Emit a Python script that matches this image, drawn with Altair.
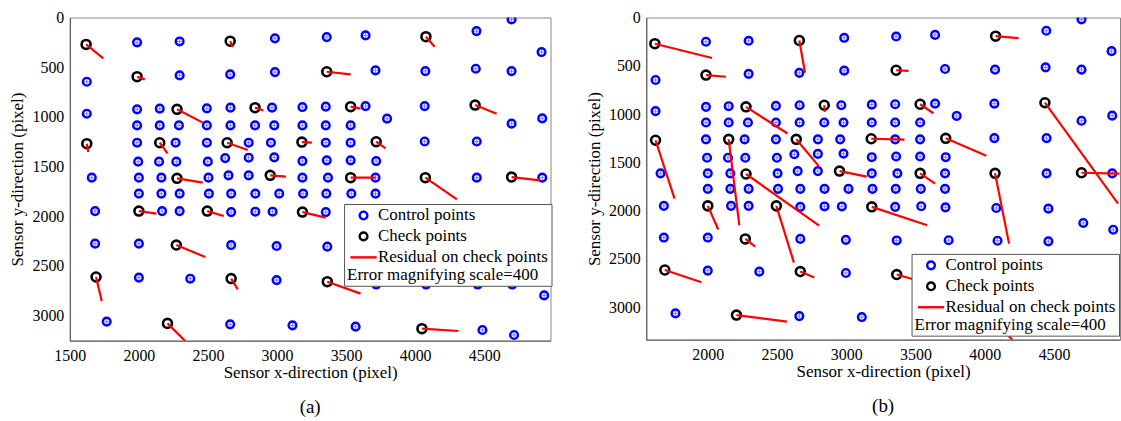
import altair as alt
import pandas as pd

# ---------------- data ----------------
ctrl_x = [1987, 2295, 2985, 3360, 3641, 4444, 4698, 4915,
          1623, 2295, 2661, 2985, 3713, 4074, 4439, 4698,
          1623, 1987, 2151, 2492, 2663, 2964, 3184, 3353, 3641, 3797, 4069, 4698, 4920,
          1987, 2151, 2290, 2492, 2663, 2841, 2980, 3184, 3353, 3533,
          1987, 2266, 2492, 2795, 2956, 3353, 3533, 4069, 4446,
          1995, 2146, 2271, 2499, 2625, 2795, 2980, 3184, 3360, 3533, 3718,
          1659, 2000, 2163, 2504, 2649, 2795, 3184, 3369, 3713, 4446, 4920,
          2000, 2163, 2295, 2507, 2668, 2843, 3016, 3189, 3357, 3538, 3713,
          1683, 2168, 2295, 2668, 2843, 2968, 3353, 3541, 3716, 4083, 4459, 4711, 4927,
          1683, 2000, 2668, 2997, 3364, 3739, 4092, 4459,
          2000, 2372, 2997, 3718, 4079, 4453, 4703, 4934,
          1767, 2661, 3112, 3569, 4487, 4716]
ctrl_y = [251, 241, 210, 197, 180, 137, 19, 348,
          647, 583, 573, 550, 533, 540, 516, 540,
          969, 925, 918, 915, 908, 908, 902, 898, 892, 1019, 892, 1069, 1016,
          1087, 1087, 1087, 1087, 1087, 1087, 1087, 1087, 1087, 1087,
          1261, 1261, 1261, 1261, 1261, 1261, 1261, 1249, 1249,
          1452, 1452, 1452, 1452, 1416, 1412, 1409, 1446, 1439, 1439, 1446,
          1613, 1613, 1613, 1613, 1590, 1590, 1613, 1613, 1613, 1613, 1613,
          1774, 1774, 1774, 1774, 1774, 1774, 1774, 1774, 1774, 1774, 1774,
          1950, 1950, 1950, 1960, 1956, 1956, 1960, 1954, 1965, 1972, 1979, 2127, 2197,
          2278, 2278, 2292, 2302, 2308, 2306, 2311, 2317,
          2620, 2631, 2645, 2690, 2690, 2690, 2690, 2799,
          3063, 3091, 3101, 3114, 3148, 3198]

chk_x = [1618, 2661, 4078, 1987, 3360, 2276, 2841, 3533, 4434, 1623, 2151, 2639, 3180, 3718,
         2276, 2951, 3533, 4074, 4698, 2000, 2495, 3184, 2271, 1690, 2668, 3364, 4049, 2207]
chk_y = [271, 238, 193, 596, 546, 925, 908, 898, 882, 1271, 1261, 1261, 1255, 1251,
         1620, 1590, 1613, 1613, 1607, 1950, 1950, 1960, 2292, 2614, 2630, 2661, 3134, 3081]

# magnified residuals (x400) of the check points, panel (a) and panel (b)
res_a_dx = [124, 19, 63, 56, 173, 187, 60, 72, 156, 11, 56, 149, 72, 68,
            187, 114, 180, 228, 205, 127, 120, 169, 210, 41, 48, 241, 265, 129]
res_a_dy = [141, 60, 101, 27, 27, 134, 28, 20, 87, 84, 108, 74, 6, 67,
            44, 13, 0, 219, 33, 26, 50, 56, 121, 242, 108, 120, 24, 178]
res_b_dx = [413, 41, 166, 144, 89, 300, 4, 96, 528, 137, 77, 161, 240, 293,
            528, 197, 108, 101, 274, 76, 127, 400, 72, 264, 101, 144, 150, 365]
res_b_dy = [148, 334, 21, 17, 6, 276, 69, 93, 1045, 604, 890, 275, 10, 179,
            535, 58, 107, 728, 10, 245, 587, 190, 79, 127, 62, 59, 200, 68]

x_ticks_a = [1500, 2000, 2500, 3000, 3500, 4000, 4500]
x_ticks_b = [2000, 2500, 3000, 3500, 4000, 4500]
y_ticks = [0, 500, 1000, 1500, 2000, 2500, 3000]
legend_labels = ["Control points", "Check points", "Residual on check points"]
legend_title = "Error magnifying scale=400"
x_title = "Sensor x-direction (pixel)"
y_title = "Sensor y-direction (pixel)"

FONT = "Liberation Serif"
BLUE, BLACK, RED = "#0000ff", "#000000", "#ff0000"

ctrl = pd.DataFrame({"x": ctrl_x, "y": ctrl_y, "kind": legend_labels[0]})
chk = pd.DataFrame({"x": chk_x, "y": chk_y, "kind": legend_labels[1]})


def residuals(dx, dy):
    return pd.DataFrame({
        "x": chk_x, "y": chk_y,
        "xe": [a + b for a, b in zip(chk_x, dx)],
        "ye": [a + b for a, b in zip(chk_y, dy)],
        "kind": legend_labels[2],
    })


def panel(res_df, xdom, xticks, ydom, lx, ly, caption, w, h):
    xs = alt.Scale(domain=xdom, nice=False, zero=False)
    ys = alt.Scale(domain=ydom, reverse=True, nice=False, zero=False)
    xax = alt.Axis(values=xticks, title=x_title, format="d", labelFlush=False)
    yax = alt.Axis(values=y_ticks, title=y_title, format="d")
    leg = alt.Legend(title=legend_title, orient="none", legendX=lx, legendY=ly,
                     titleOrient="bottom", titleAnchor="start", titleFont=FONT,
                     titleFontSize=17, titleFontWeight="normal", titleColor="black",
                     titlePadding=1, titleLimit=400, labelLimit=400,
                     labelFont=FONT, labelFontSize=17, labelColor="black",
                     fillColor="white", strokeColor="#555", padding=3,
                     rowPadding=2, symbolSize=60, symbolStrokeWidth=2.4,
                     symbolOffset=8, labelOffset=6, symbolOpacity=1)
    color = alt.Color("kind:N", scale=alt.Scale(domain=legend_labels, range=[BLUE, BLACK, RED]), legend=leg)
    shape = alt.Shape("kind:N", scale=alt.Scale(domain=legend_labels,
                                                range=["circle", "circle", "M-3.4,0L3.4,0"]), legend=leg)

    base_x = alt.X("x:Q", scale=xs, axis=xax)
    base_y = alt.Y("y:Q", scale=ys, axis=yax)

    c_layer = alt.Chart(ctrl).mark_point(filled=False, size=60, strokeWidth=2.4, opacity=1, clip=True).encode(
        x=base_x, y=base_y, color=color, shape=shape)
    cross = alt.Chart(ctrl).mark_point(shape="M-1,0L1,0M0,-1L0,1", filled=False, size=25, opacity=1,
                                       strokeWidth=0.9, color="#7070ff", clip=True).encode(
        x=alt.X("x:Q", scale=xs), y=alt.Y("y:Q", scale=ys))
    k_layer = alt.Chart(chk).mark_point(filled=False, size=80, strokeWidth=2.6, opacity=1, clip=True).encode(
        x=base_x, y=base_y, color=color, shape=shape)
    r_layer = alt.Chart(res_df).mark_rule(strokeWidth=2.2, opacity=1, clip=True).encode(
        x=alt.X("x:Q", scale=xs), y=alt.Y("y:Q", scale=ys),
        x2="xe:Q", y2="ye:Q", color=color)

    return alt.layer(c_layer, cross, k_layer, r_layer).properties(
        width=w, height=h,
        title=alt.TitleParams(caption, orient="bottom", fontSize=19, font=FONT,
                              fontWeight="normal", color="black", offset=18),
    )


pa = panel(residuals(res_a_dx, res_a_dy), [1500, 4980], x_ticks_a, [0, 3255], 275, 187, "(a)", 482, 324)
pb = panel(residuals(res_b_dx, res_b_dy), [1556, 4976], x_ticks_b, [0, 3335], 266, 237, "(b)", 475, 323)

chart = alt.hconcat(pa, pb, spacing=32).resolve_scale(
    color="independent", shape="independent"
).resolve_legend(color="independent", shape="independent").properties(
    padding={"left": 8, "top": 8, "right": 0, "bottom": 0}
).configure_view(stroke="#888", strokeWidth=1).configure_axis(
    labelFont=FONT, titleFont=FONT, labelFontSize=16, titleFontSize=17,
    titleFontWeight="normal", labelColor="black", titleColor="black",
    grid=False, ticks=False, domainColor="#555", labelPadding=6, titlePadding=5,
).configure_axisX(titlePadding=1, labelPadding=7)

chart.save("out.html", embed_options={"renderer": "svg", "actions": False})
